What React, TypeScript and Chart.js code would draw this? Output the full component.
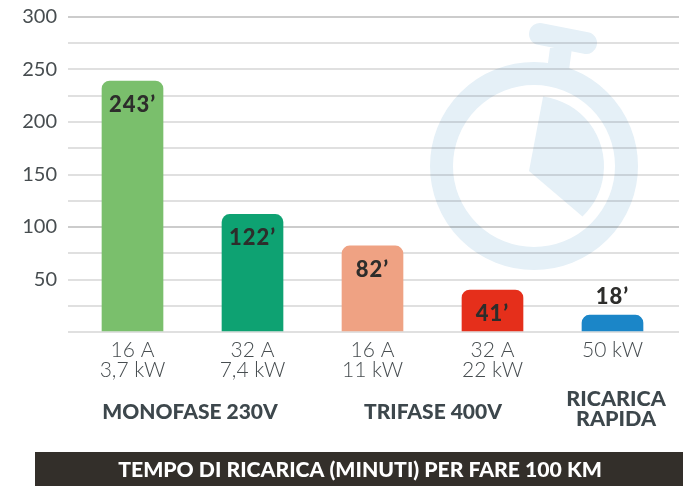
import React, { useEffect, useRef } from "react";
import { Chart, registerables } from "chart.js";

Chart.register(...registerables);

// Bar heights as read against the gridlines; the printed labels differ from them in the source.
const barHeights = [239, 112, 82, 40, 16];
const printedLabels = ["243’", "122’", "82’", "41’", "18’"];
const axisLabels = [
  ["16 A", "3,7 kW"],
  ["32 A", "7,4 kW"],
  ["16 A", "11 kW"],
  ["32 A", "22 kW"],
  ["50 kW"],
];
const barColors = ["#7abf6c", "#0ea272", "#efa283", "#e52f1b", "#1b86c8"];
const footerText = "TEMPO DI RICARICA (MINUTI) PER FARE 100 KM";

const FONT = "Lato, 'Noto Sans', sans-serif";
const INK = "#474d50";

const watermark = {
  id: "watermark",
  beforeDraw(chart: any) {
    const c = chart.ctx;
    c.save();
    c.fillStyle = "#ffffff";
    c.fillRect(0, 0, chart.width, chart.height);
    c.strokeStyle = "#e5f0f7";
    c.fillStyle = "#e5f0f7";
    c.lineWidth = 23;
    c.beginPath();
    c.arc(534, 166, 92.5, 0, Math.PI * 2);
    c.stroke();
    c.lineCap = "round";
    c.lineWidth = 22;
    c.beginPath();
    c.moveTo(540, 34);
    c.lineTo(586, 43);
    c.stroke();
    c.beginPath();
    c.moveTo(550, 48);
    c.lineTo(572, 48);
    c.lineTo(569, 70);
    c.lineTo(547, 70);
    c.closePath();
    c.fill();
    c.beginPath();
    c.moveTo(529, 171);
    c.lineTo(543, 97);
    c.arc(534, 166, 70, Math.atan2(97 - 166, 543 - 534), Math.atan2(217 - 166, 583 - 534));
    c.closePath();
    c.fill();
    c.restore();
  },
};

const annotations = {
  id: "annotations",
  afterDatasetsDraw(chart: any) {
    const c = chart.ctx;
    const meta = chart.getDatasetMeta(0);
    c.save();
    c.textAlign = "center";
    c.textBaseline = "middle";

    c.font = `900 22px ${FONT}`;
    c.letterSpacing = "1px";
    c.fillStyle = "#2d2d2b";
    meta.data.forEach((bar: any, i: number) => {
      const inside = barHeights[i] >= 20;
      c.fillText(printedLabels[i], bar.x, bar.y + (inside ? 24 : -18));
    });
    c.letterSpacing = "0px";

    c.font = `900 21px ${FONT}`;
    c.fillStyle = "#3d474c";
    c.fillText("MONOFASE 230V", 190, 412);
    c.fillText("TRIFASE 400V", 433, 412);
    c.font = `900 21.5px ${FONT}`;
    c.fillText("RICARICA", 616, 399);
    c.fillText("RAPIDA", 616, 419);

    c.fillStyle = "#332f2a";
    c.fillRect(35, 452, 648, 34);
    c.font = `900 21.2px ${FONT}`;
    c.fillStyle = "#ffffff";
    c.fillText(footerText, 360, 470);
    c.restore();
  },
};

export default function App() {
  const ref = useRef<HTMLCanvasElement | null>(null);

  useEffect(() => {
    const chart = new Chart(ref.current as HTMLCanvasElement, {
      type: "bar",
      data: {
        datasets: [
          {
            data: barHeights.map((y, x) => ({ x, y })),
            backgroundColor: barColors,
            barThickness: 61,
            borderRadius: { topLeft: 8, topRight: 8, bottomLeft: 0, bottomRight: 0 },
            borderSkipped: false,
          },
        ],
      },
      options: {
        animation: false,
        responsive: false,
        layout: { padding: { top: 17, right: 7, left: 0, bottom: 0 } },
        plugins: { legend: { display: false }, tooltip: { enabled: false } },
        scales: {
          x: {
            type: "linear",
            offset: false,
            min: -0.5375,
            max: 4.5542,
            grid: { display: false },
            border: { display: false },
            afterBuildTicks: (s: any) => {
              s.ticks = axisLabels.map((_, value) => ({ value }));
            },
            afterFit: (s: any) => {
              s.height = 154;
            },
            ticks: {
              autoSkip: false,
              maxRotation: 0,
              padding: 0,
              color: INK,
              font: { family: FONT, size: 21, weight: "300", lineHeight: 0.96 },
              callback: (v: any) => axisLabels[v] ?? "",
            },
          },
          y: {
            min: 0,
            max: 300,
            border: { display: false },
            afterFit: (s: any) => {
              s.width = 68;
              s.paddingTop = 0;
              s.paddingBottom = 0;
            },
            grid: {
              drawTicks: false,
              lineWidth: 2,
              color: (ctx: any) =>
                ctx.tick.value === 300 || ctx.tick.value === 100
                  ? "rgba(0,0,0,0.2)"
                  : "rgba(0,0,0,0.12)",
            },
            ticks: {
              stepSize: 25,
              autoSkip: false,
              padding: 11,
              color: INK,
              font: { family: FONT, size: 20, weight: "400" },
              callback: (v: any) => (v !== 0 && v % 50 === 0 ? String(v) : ""),
            },
          },
        },
      },
      plugins: [watermark, annotations],
    } as any);
    return () => chart.destroy();
  }, []);

  return (
    <div style={{ position: "absolute", left: 0, top: 0, width: 686, height: 486 }}>
      <canvas ref={ref} width={686} height={486} style={{ display: "block" }} />
    </div>
  );
}
